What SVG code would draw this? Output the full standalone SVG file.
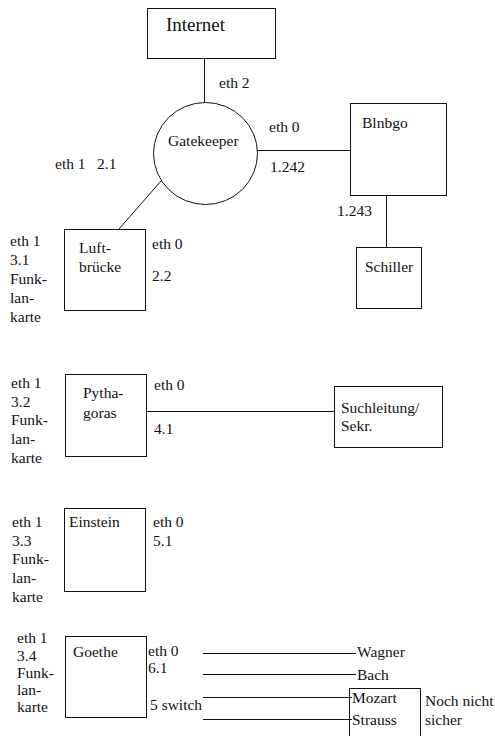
<svg xmlns="http://www.w3.org/2000/svg" width="495" height="736" viewBox="0 0 495 736">
<style>
text{font-family:'Liberation Serif','Times New Roman',Times,'DejaVu Serif',serif;font-size:15.5px;fill:#111}
.n{fill:#fff;stroke:#111;stroke-width:1}
.c line{stroke:#111;stroke-width:1}
.big{font-size:19px}
</style>
<rect width="495" height="736" fill="#fff"/>
<g class="c" id="connectors">
<line x1="204.5" y1="58" x2="204.5" y2="103"/>
<line x1="257" y1="150.5" x2="350" y2="150.5"/>
<line x1="386.5" y1="195" x2="386.5" y2="247"/>
<line x1="161" y1="181" x2="119" y2="229"/>
<line x1="146" y1="411.5" x2="334" y2="411.5"/>
<line x1="203" y1="653.5" x2="356" y2="653.5"/>
<line x1="203" y1="674.5" x2="356" y2="674.5"/>
<line x1="203" y1="697.5" x2="352" y2="697.5"/>
<line x1="203" y1="719.5" x2="352" y2="719.5"/>
</g>
<g font-family="Liberation Serif, Times New Roman, serif">
<g id="internet"><rect class="n" x="147.5" y="8.5" width="128" height="50"/><text class="big" x="166" y="31">Internet</text></g>
<g id="gatekeeper"><ellipse class="n" cx="205.5" cy="153.5" rx="52" ry="51"/><text x="168" y="146">Gatekeeper</text></g>
<g id="blnbgo"><rect class="n" x="350.5" y="103.5" width="96" height="92"/><text x="362" y="128">Blnbgo</text></g>
<g id="schiller"><rect class="n" x="356.5" y="247.5" width="65" height="61"/><text x="365" y="272">Schiller</text></g>
<g id="luftbruecke"><rect class="n" x="64.5" y="229.5" width="81" height="81"/><text x="79" y="253">Luft-</text><text x="79" y="272">brücke</text></g>
<g id="pythagoras"><rect class="n" x="65.5" y="374.5" width="81" height="82"/><text x="83" y="398">Pytha-</text><text x="83" y="418">goras</text></g>
<g id="suchleitung"><rect class="n" x="334.5" y="386.5" width="108" height="61"/><text x="341" y="413">Suchleitung/</text><text x="341" y="431">Sekr.</text></g>
<g id="einstein"><rect class="n" x="64.5" y="508.5" width="81" height="83"/><text x="69" y="527">Einstein</text></g>
<g id="goethe"><rect class="n" x="65.5" y="636.5" width="81" height="81"/><text x="73" y="657">Goethe</text></g>
<g id="mozart"><rect fill="none" stroke="#111" x="349.5" y="688.5" width="71" height="60"/><text x="352" y="703">Mozart</text><text x="352" y="725">Strauss</text></g>
<g id="labels">
<text x="219" y="88">eth 2</text>
<text x="269" y="132">eth 0</text>
<text x="270" y="172">1.242</text>
<text x="55" y="169">eth 1</text><text x="97" y="169">2.1</text>
<text x="337" y="216">1.243</text>
<text x="152" y="249">eth 0</text>
<text x="152" y="281">2.2</text>
<text x="10" y="246">eth 1</text><text x="10" y="265">3.1</text><text x="10" y="284">Funk-</text><text x="10" y="303">lan-</text><text x="10" y="322">karte</text>
<text x="154" y="390">eth 0</text>
<text x="154" y="434">4.1</text>
<text x="11" y="388">eth 1</text><text x="11" y="407">3.2</text><text x="11" y="425">Funk-</text><text x="11" y="444">lan-</text><text x="11" y="463">karte</text>
<text x="153" y="527">eth 0</text>
<text x="153" y="546">5.1</text>
<text x="12" y="527">eth 1</text><text x="12" y="546">3.3</text><text x="12" y="564">Funk-</text><text x="12" y="583">lan-</text><text x="12" y="602">karte</text>
<text x="148" y="656">eth 0</text>
<text x="148" y="673">6.1</text>
<text x="150" y="710">5 switch</text>
<text x="17" y="643">eth 1</text><text x="17" y="661">3.4</text><text x="17" y="678">Funk-</text><text x="17" y="695">lan-</text><text x="17" y="712">karte</text>
<text x="357" y="657">Wagner</text>
<text x="357" y="680">Bach</text>
<text x="425" y="706">Noch nicht</text>
<text x="425" y="725">sicher</text>
</g>
</g>
</svg>
